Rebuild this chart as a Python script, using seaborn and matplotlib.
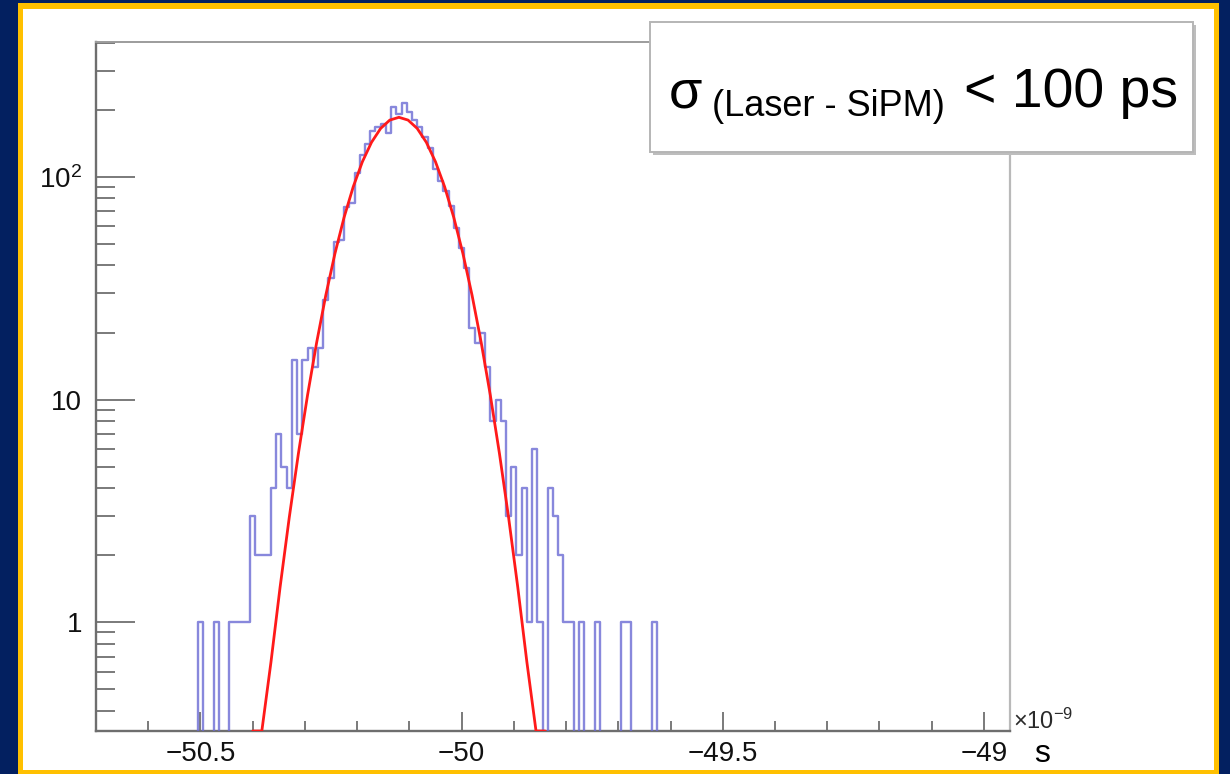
import numpy as np
import pandas as pd
import matplotlib
matplotlib.use("Agg")
import matplotlib.pyplot as plt
import seaborn as sns
from matplotlib.patches import Rectangle
from matplotlib.ticker import FixedLocator, FixedFormatter, MultipleLocator, LogLocator, NullFormatter

# ---------------- data (time in units of 1e-9 s) ----------------
bin_first_center = -50.51      # centre of first listed bin
bin_width = 0.01
counts = [
    0, 1, 0, 0, 1, 0, 0, 1, 1, 1, 1,          # -50.51 .. -50.41
    3, 2, 2, 2, 4, 7, 5, 4, 15, 7,            # -50.40 .. -50.31
    15, 17, 14, 17, 28, 35, 51, 52, 73, 76,   # -50.30 .. -50.21
    104, 125, 140, 160, 168, 172, 158, 206, 192, 215,  # -50.20 .. -50.11
    196, 180, 167, 151, 135, 108, 96, 86, 74, 59,      # -50.10 .. -50.01
    48, 39, 21, 18, 20, 14, 8, 10, 8, 3,      # -50.00 .. -49.91
    5, 2, 4, 1, 6, 1, 0, 4, 3, 2,             # -49.90 .. -49.81
    1, 1, 0, 1, 0, 0, 1, 0, 0, 0,             # -49.80 .. -49.71
    0, 1, 1, 0, 0, 0, 0, 1, 0,                # -49.70 .. -49.62
]

fit_const = 185.0
fit_mean = -50.12
fit_sigma = 0.073
fit_range = (-50.40, -49.84)
fit_npx = 33

x_limits = (-50.70, -48.95)
y_limits = (0.325, 403.0)
x_ticks = [-50.5, -50.0, -49.5, -49.0]
x_tick_labels = ["\u221250.5", "\u221250", "\u221249.5", "\u221249"]
y_ticks = [1, 10, 100]
y_tick_labels = ["1", "10", "$10^{2}$"]

legend_sigma = "\u03c3"
legend_sub = "(Laser - SiPM)"
legend_main = "< 100 ps"
axis_exponent = "$\\times10^{-9}$"
axis_unit = "s"

# ---------------- style ----------------
sns.set_style("ticks")
plt.rcParams["font.family"] = ["Liberation Sans", "DejaVu Sans"]
plt.rcParams["mathtext.fontset"] = "custom"
plt.rcParams["mathtext.rm"] = "Liberation Sans"
plt.rcParams["mathtext.default"] = "regular"

W, H = 1230, 774
fig = plt.figure(figsize=(W / 100, H / 100), dpi=100, facecolor="#032060")

def fx(px):
    return px / W

def fy(py):
    return 1 - py / H

# yellow border and white panel
fig.patches.append(Rectangle((fx(18), 0), fx(1219) - fx(18), fy(3), transform=fig.transFigure,
                             facecolor="#ffc000", edgecolor="none", zorder=-20))
fig.patches.append(Rectangle((fx(23), fy(770)), fx(1214) - fx(23), fy(9) - fy(770),
                             transform=fig.transFigure, facecolor="white", edgecolor="none", zorder=-19))

ax = fig.add_axes([fx(96), fy(731), fx(1010) - fx(96), fy(42) - fy(731)])
ax.set_facecolor("white")

# histogram
counts_arr = np.array(counts, dtype=float)
centers = bin_first_center + bin_width * np.arange(len(counts_arr))
display_counts = np.where(counts_arr > 0, counts_arr, 1e-3)  # zero bins drop to the floor like ROOT
df = pd.DataFrame({"t": centers, "n": display_counts})
sns.histplot(data=df, x="t", weights="n", binwidth=bin_width,
             binrange=(float(centers[0] - bin_width / 2), float(centers[-1] + bin_width / 2)),
             element="step", fill=False,
             color="#6a6ad4", alpha=0.8, linewidth=1.7, ax=ax, zorder=3)

# gaussian fit curve
fit_x = np.linspace(fit_range[0], fit_range[1], fit_npx)
fit_y = fit_const * np.exp(-0.5 * ((fit_x - fit_mean) / fit_sigma) ** 2)
fit_y = np.maximum(fit_y, y_limits[0])
sns.lineplot(x=fit_x, y=fit_y, color="#ff1a1a", linewidth=2.0, ax=ax, zorder=4, sort=False)

ax.set_yscale("log")
ax.set_xlim(*x_limits)
ax.set_ylim(*y_limits)
ax.set_xlabel("")
ax.set_ylabel("")

ax.xaxis.set_major_locator(FixedLocator(x_ticks))
ax.xaxis.set_major_formatter(FixedFormatter(x_tick_labels))
ax.xaxis.set_minor_locator(MultipleLocator(0.1))
ax.yaxis.set_major_locator(FixedLocator(y_ticks))
ax.yaxis.set_major_formatter(FixedFormatter(y_tick_labels))
ax.yaxis.set_minor_locator(LogLocator(base=10, subs=np.arange(2, 10)))
ax.yaxis.set_minor_formatter(NullFormatter())

tick_col = "#7a7a7a"
ax.tick_params(axis="y", which="major", direction="in", length=28, width=1.4, color=tick_col,
               pad=10, labelsize=20, labelcolor="#111111", left=True, right=False)
ax.tick_params(axis="y", which="minor", direction="in", length=14, width=1.4, color=tick_col,
               left=True, right=False)
ax.tick_params(axis="x", which="major", direction="in", length=14, width=1.4, color=tick_col,
               pad=7, labelsize=20, labelcolor="#111111", bottom=True, top=False)
ax.tick_params(axis="x", which="minor", direction="in", length=7, width=1.4, color=tick_col,
               bottom=True, top=False)

for side, col, lw in [("left", "#6e6e6e", 1.7), ("bottom", "#6e6e6e", 1.7),
                      ("top", "#9c9c9c", 1.4), ("right", "#b9b9b9", 1.6)]:
    ax.spines[side].set_visible(True)
    ax.spines[side].set_color(col)
    ax.spines[side].set_linewidth(lw)

# legend / pave box with shadow
fig.patches.append(Rectangle((fx(653), fy(155)), fx(1196) - fx(653), fy(25) - fy(155),
                             transform=fig.transFigure, facecolor="#bdbdbd", edgecolor="none", zorder=10))
fig.patches.append(Rectangle((fx(650), fy(152)), fx(1193) - fx(650), fy(22) - fy(152),
                             transform=fig.transFigure, facecolor="white", edgecolor="#b5b5b5",
                             linewidth=1.4, zorder=11))
fig.text(fx(669), fy(107), legend_sigma, fontsize=39, color="black", ha="left", va="baseline", zorder=12)
fig.text(fx(712), fy(116), legend_sub, fontsize=26, color="black", ha="left", va="baseline", zorder=12)
fig.text(fx(964), fy(107), legend_main, fontsize=40, color="black", ha="left", va="baseline", zorder=12)

# axis exponent and unit
fig.text(fx(1013), fy(729), axis_exponent, fontsize=17, color="#2a2a2a", ha="left", va="baseline")
fig.text(fx(1034), fy(762), axis_unit, fontsize=23, color="black", ha="left", va="baseline")

fig.savefig("out.png", dpi=100, facecolor=fig.get_facecolor())
